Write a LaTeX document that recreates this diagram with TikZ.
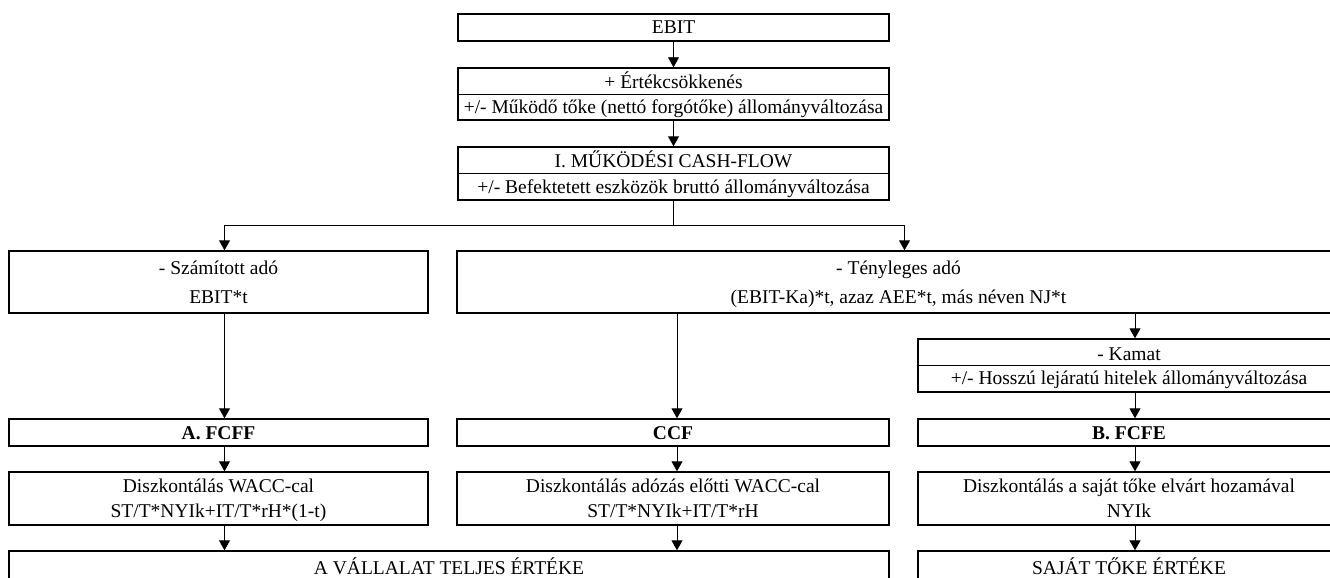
\documentclass[tikz,border=0pt]{standalone}
\usepackage{fontspec}
\setmainfont{Liberation Serif}
\usetikzlibrary{arrows.meta}

\tikzset{
	doboz/.style n args={2}{draw, line width=1.4pt, minimum width=#1, minimum height=#2, inner sep=0pt, text height=17pt, text depth=4pt},
	szoveg/.style={inner sep=0pt, text height=17pt, text depth=4pt},
	valaszto/.style={line width=0.8pt},
	pil/.style={-{Triangle[width=11pt,length=10pt]}, line width=0.9pt}
}

\begin{document}
\begin{tikzpicture}[x=1pt,y=-1pt,font=\fontsize{19.5pt}{22pt}\selectfont]
		\useasboundingbox (0,0) rectangle (1330,578);
		\clip (0,0) rectangle (1330,578);
		% Felso oszlop
		\node[doboz={431pt}{27pt}] (ebit) at (673.5,27.5) {EBIT};
		\node[doboz={431pt}{52pt}] (mk) at (673.5,94) {};
		\draw[valaszto] (mk.west) -- (mk.east);
		\node[szoveg] (mk1) at (673.5,82) {+ Értékcsökkenés};
		\node[szoveg] (mk2) at (673.5,107) {+/- Működő tőke (nettó forgótőke) állományváltozása};
		\node[doboz={431pt}{53pt}] (cf) at (673.5,173.5) {};
		\draw[valaszto] (cf.west) -- (cf.east);
		\node[szoveg] (cf1) at (673.5,161) {I. MŰKÖDÉSI CASH-FLOW};
		\node[szoveg] (cf2) at (673.5,187) {+/- Befektetett eszközök bruttó állományváltozása};
		\draw[pil] (ebit) -- (mk);
		\draw[pil] (mk) -- (cf);
		% Adok
		\node[doboz={419pt}{62pt}] (szado) at (218.5,282) {};
		\node[szoveg] (szado1) at (218.5,268) {- Számított adó};
		\node[szoveg] (szado2) at (218.5,297) {EBIT*t};
		\node[doboz={883pt}{62pt}] (tado) at (898.5,282) {};
		\node[szoveg] (tado1) at (898.5,268) {- Tényleges adó};
		\node[szoveg] (tado2) at (898.5,297) {(EBIT-Ka)*t, azaz AEE*t, más néven NJ*t};
		% Elagazas
		\draw (cf.south) -- ++(0,25) coordinate (ag);
		\draw[pil] (ag) -| ([xshift=6pt]szado.north);
		\draw[pil] (ag) -| ([xshift=6pt]tado.north);
		% Kamat
		\node[doboz={422pt}{53pt}] (kamat) at (1129,365.5) {};
		\draw[valaszto] (kamat.west) -- (kamat.east);
		\node[szoveg] (kamat1) at (1129,354) {- Kamat};
		\node[szoveg] (kamat2) at (1129,378) {+/- Hosszú lejáratú hitelek állományváltozása};
		\draw[pil] (tado.south -| 1135,0) -- (kamat.north -| 1135,0);
		% Cash-flow fajtak
		\node[doboz={419pt}{27pt}, font=\fontsize{19.5pt}{22pt}\selectfont\bfseries] (fcff) at (218.5,432.5) {A. FCFF};
		\node[doboz={432pt}{27pt}, font=\fontsize{19.5pt}{22pt}\selectfont\bfseries] (ccf) at (673,432.5) {CCF};
		\node[doboz={422pt}{27pt}, font=\fontsize{19.5pt}{22pt}\selectfont\bfseries] (fcfe) at (1129,432.5) {B. FCFE};
		\draw[pil] ([xshift=6pt]szado.south) -- ([xshift=6pt]fcff.north);
		\draw[pil] ([xshift=4pt]ccf.north |- tado.south) -- ([xshift=4pt]ccf.north);
		\draw[pil] (kamat.south -| 1135,0) -- (fcfe.north -| 1135,0);
		% Diszkontalas
		\node[doboz={419pt}{53pt}] (dwacc) at (218.5,498.5) {};
		\node[szoveg] (dwacc1) at (218.5,486) {Diszkontálás WACC-cal};
		\node[szoveg] (dwacc2) at (218.5,511) {ST/T*NYIk+IT/T*rH*(1-t)};
		\node[doboz={432pt}{53pt}] (dadoz) at (673,498.5) {};
		\node[szoveg] (dadoz1) at (673,486) {Diszkontálás adózás előtti WACC-cal};
		\node[szoveg] (dadoz2) at (673,511) {ST/T*NYIk+IT/T*rH};
		\node[doboz={422pt}{53pt}] (dsajat) at (1129,498.5) {};
		\node[szoveg] (dsajat1) at (1129,486) {Diszkontálás a saját tőke elvárt hozamával};
		\node[szoveg] (dsajat2) at (1129,511) {NYIk};
		\draw[pil] ([xshift=6pt]fcff.south) -- ([xshift=6pt]dwacc.north);
		\draw[pil] ([xshift=4pt]ccf.south) -- ([xshift=4pt]dadoz.north);
		\draw[pil] (fcfe.south -| 1135,0) -- (dsajat.north -| 1135,0);
		% Ertekek
		\node[doboz={880pt}{33pt}] (vall) at (449,567.5) {A VÁLLALAT TELJES ÉRTÉKE};
		\node[doboz={422pt}{33pt}] (sajat) at (1129,567.5) {SAJÁT TŐKE ÉRTÉKE};
		\draw[pil] ([xshift=6pt]dwacc.south) -- ([xshift=6pt]dwacc.south |- vall.north);
		\draw[pil] ([xshift=4pt]dadoz.south) -- ([xshift=4pt]dadoz.south |- vall.north);
		\draw[pil] (dsajat.south -| 1135,0) -- (sajat.north -| 1135,0);
	\end{tikzpicture}
\end{document}
